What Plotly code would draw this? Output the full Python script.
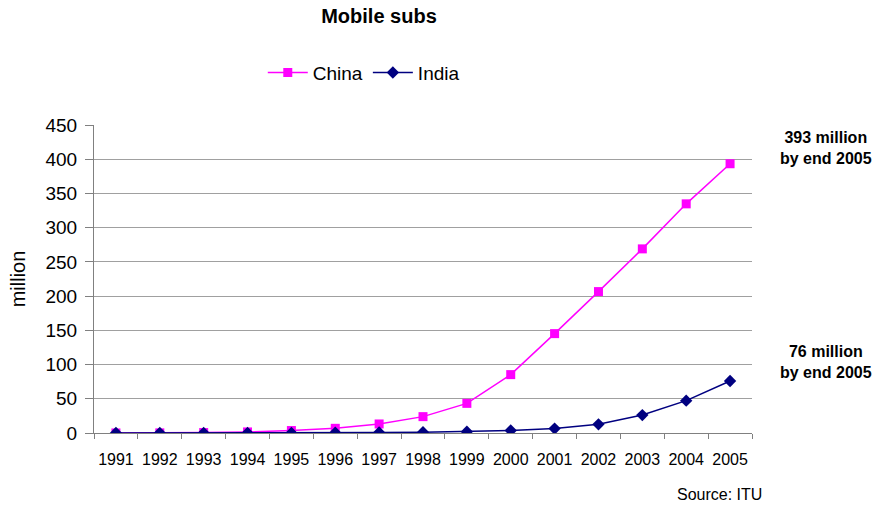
import plotly.graph_objects as go

years = ["1991", "1992", "1993", "1994", "1995", "1996", "1997", "1998",
         "1999", "2000", "2001", "2002", "2003", "2004", "2005"]
china = [0.05, 0.18, 0.64, 1.57, 3.6, 6.85, 13.2, 23.9, 43.3, 85.3, 145.2, 206.6, 269.0, 334.8, 393.4]
india = [0.0, 0.0, 0.01, 0.01, 0.08, 0.33, 0.88, 1.2, 1.88, 3.58, 6.4, 12.7, 26.2, 47.3, 76.0]

FONT = "Liberation Sans, Arial, sans-serif"

fig = go.Figure()
fig.add_trace(go.Scatter(x=years, y=china, name="China", mode="lines+markers",
                         line=dict(color="#FF00FF", width=1.5),
                         marker=dict(symbol="square", size=9, color="#FF00FF")))
fig.add_trace(go.Scatter(x=years, y=india, name="India", mode="lines+markers",
                         line=dict(color="#000080", width=1.5),
                         marker=dict(symbol="diamond", size=9.5, color="#000080")))

fig.update_layout(
    width=876, height=506,
    margin=dict(l=94, r=124, t=125, b=73),
    paper_bgcolor="white", plot_bgcolor="white",
    font=dict(family=FONT, color="black"),
    title=dict(text="<b>Mobile subs</b>", x=(379 - 94) / 658, xref="paper", xanchor="center",
               y=1 - 16 / 506, yanchor="middle",
               font=dict(size=20, family=FONT)),
    legend=dict(orientation="h", x=0.41, xanchor="center", y=1.17, yanchor="middle",
                font=dict(size=19, family=FONT), itemwidth=40, tracegroupgap=0),
    showlegend=True,
)
fig.update_xaxes(type="category", tickson="boundaries", ticks="outside", ticklen=5,
                 tickcolor="#808080", showline=True, linecolor="#808080", linewidth=1,
                 showgrid=False, tickfont=dict(size=16, family=FONT), tickangle=0,
                 ticklabelstandoff=12, range=[-0.5, 14.5])
fig.update_yaxes(range=[0, 450], dtick=50, ticks="outside", ticklen=8, tickcolor="#808080",
                 showline=True, linecolor="#808080", linewidth=1,
                 showgrid=True, gridcolor="#A0A0A0", gridwidth=1,
                 tickfont=dict(size=19, family=FONT), ticklabelstandoff=4,
                 title=dict(text="million", font=dict(size=20, family=FONT), standoff=14),
                 zeroline=False)

fig.add_annotation(text="<b>393 million<br>by end 2005</b>", xref="paper", yref="paper",
                   x=(826 - 94) / 658, xanchor="center", y=(433 - 148) / 308, yanchor="middle",
                   showarrow=False, align="center", font=dict(size=16, family=FONT))
fig.add_annotation(text="<b>76 million<br>by end 2005</b>", xref="paper", yref="paper",
                   x=(826 - 94) / 658, xanchor="center", y=(433 - 362) / 308, yanchor="middle",
                   showarrow=False, align="center", font=dict(size=16, family=FONT))
fig.add_annotation(text="Source: ITU", xref="paper", yref="paper",
                   x=(764 - 94) / 658, xanchor="right", y=(433 - 494) / 308, yanchor="middle",
                   showarrow=False, font=dict(size=16, family=FONT))

fig.write_html("out.html")
